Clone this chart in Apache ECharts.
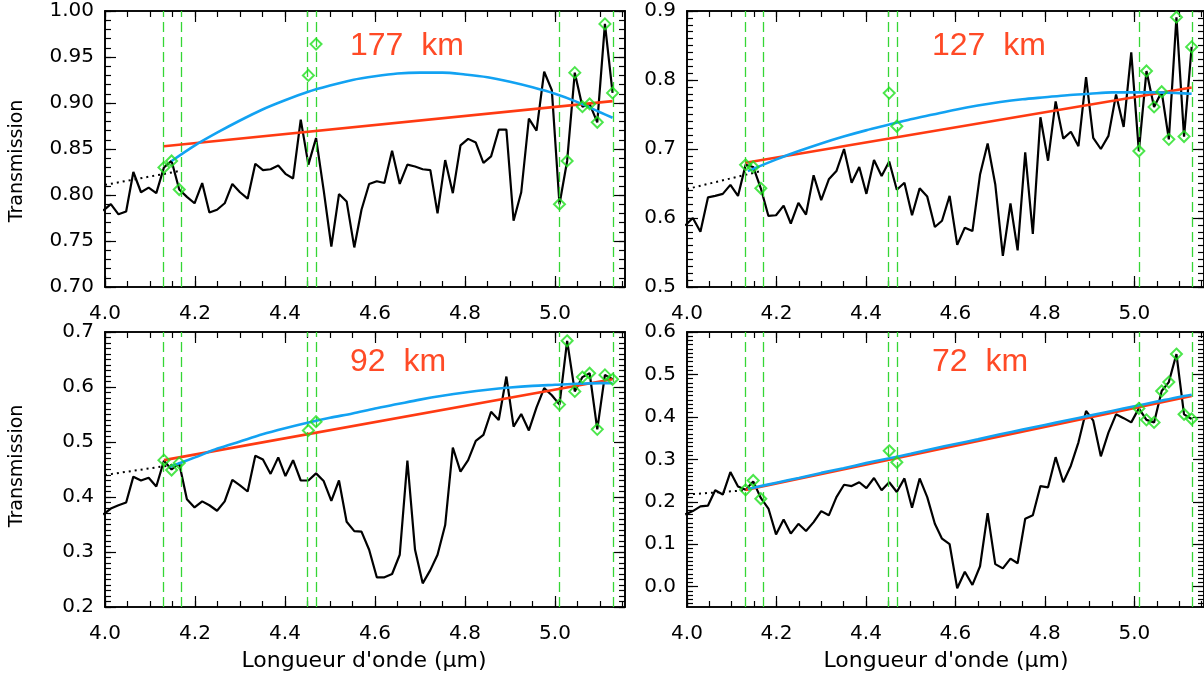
<!DOCTYPE html>
<html><head><meta charset="utf-8">
<script src="https://cdn.jsdelivr.net/npm/echarts@6/dist/echarts.min.js"></script>
<style>html,body{margin:0;padding:0;background:#fff}#c{width:1204px;height:677px}</style>
</head><body><div id="c"></div>
<script>
// ---- data ----
const wavelengths = [3.996,4.013,4.030,4.047,4.063,4.080,4.097,4.114,4.131,4.148,4.165,4.182,4.199,4.216,4.232,4.249,4.266,4.283,4.300,4.317,4.334,4.351,4.368,4.385,4.401,4.418,4.435,4.452,4.469,4.486,4.503,4.520,4.537,4.554,4.570,4.587,4.604,4.621,4.638,4.655,4.672,4.689,4.706,4.723,4.739,4.756,4.773,4.790,4.807,4.824,4.841,4.858,4.875,4.892,4.908,4.925,4.942,4.959,4.976,4.993,5.010,5.027,5.044,5.061,5.077,5.094,5.111,5.128];

const trans177 = [0.783,0.790,0.779,0.782,0.825,0.803,0.808,0.802,0.830,0.837,0.806,0.798,0.791,0.813,0.781,0.784,0.791,0.812,0.803,0.796,0.834,0.827,0.828,0.832,0.823,0.818,0.882,0.833,0.862,0.805,0.744,0.801,0.793,0.743,0.784,0.812,0.815,0.813,0.848,0.812,0.833,0.831,0.828,0.827,0.780,0.838,0.802,0.854,0.861,0.857,0.835,0.842,0.871,0.871,0.772,0.803,0.883,0.870,0.934,0.914,0.790,0.837,0.933,0.896,0.899,0.879,0.986,0.911];
const trans127 = [0.589,0.600,0.580,0.630,0.632,0.635,0.648,0.632,0.677,0.674,0.643,0.603,0.604,0.618,0.592,0.622,0.605,0.662,0.626,0.656,0.668,0.700,0.651,0.674,0.635,0.684,0.661,0.682,0.641,0.651,0.604,0.643,0.631,0.587,0.596,0.632,0.561,0.586,0.581,0.663,0.708,0.649,0.545,0.621,0.553,0.695,0.577,0.746,0.683,0.769,0.715,0.725,0.704,0.804,0.716,0.700,0.719,0.779,0.732,0.840,0.697,0.813,0.761,0.783,0.714,0.891,0.718,0.848];
const trans92 = [0.368,0.379,0.385,0.390,0.437,0.430,0.435,0.419,0.466,0.450,0.461,0.396,0.381,0.392,0.385,0.375,0.392,0.431,0.421,0.410,0.475,0.468,0.442,0.472,0.438,0.467,0.430,0.430,0.443,0.429,0.393,0.430,0.355,0.338,0.337,0.304,0.254,0.254,0.260,0.295,0.466,0.304,0.243,0.267,0.295,0.349,0.490,0.446,0.467,0.502,0.513,0.555,0.540,0.619,0.528,0.551,0.521,0.563,0.598,0.585,0.568,0.684,0.592,0.618,0.625,0.523,0.622,0.614];
const trans72 = [0.170,0.178,0.189,0.191,0.227,0.217,0.270,0.236,0.228,0.248,0.209,0.184,0.123,0.158,0.125,0.148,0.131,0.152,0.178,0.168,0.211,0.240,0.237,0.246,0.232,0.256,0.227,0.246,0.223,0.255,0.186,0.255,0.211,0.148,0.113,0.100,-0.004,0.035,0.004,0.048,0.173,0.053,0.043,0.066,0.055,0.160,0.168,0.237,0.234,0.305,0.246,0.285,0.340,0.414,0.391,0.307,0.363,0.406,0.397,0.387,0.420,0.393,0.387,0.461,0.482,0.548,0.406,0.395];

// continuum points (green diamonds), indices into wavelengths
const contIdx = [8,9,10,27,28,60,61,62,63,64,65,66,67];
const cont177 = [0.830,0.837,0.806,0.930,0.964,0.790,0.837,0.933,0.896,0.899,0.879,0.986,0.911];
const cont127 = [0.677,0.674,0.643,0.781,0.733,0.697,0.813,0.761,0.783,0.714,0.891,0.718,0.848];
const cont92  = [0.467,0.449,0.462,0.521,0.537,0.568,0.684,0.592,0.618,0.625,0.523,0.622,0.614];
const cont72  = [0.228,0.250,0.207,0.320,0.293,0.420,0.393,0.387,0.461,0.482,0.548,0.406,0.395];

// linear fits (red)
const lin177 = [[4.131,0.853],[5.128,0.902]];
const lin127 = [[4.131,0.680],[5.128,0.789]];
const lin92  = [[4.131,0.467],[5.128,0.614]];
const lin72  = [[4.131,0.228],[5.128,0.449]];

// curved fits (blue)
const polyX = [4.20,4.25,4.30,4.35,4.40,4.45,4.50,4.55,4.60,4.65,4.70,4.75,4.80,4.85,4.90,4.95,5.00,5.05,5.10];
const poly177Start = [4.148,0.837], poly177End = [5.128,0.884];
const poly177 = [0.854,0.868,0.881,0.893,0.903,0.912,0.919,0.925,0.929,0.932,0.933,0.933,0.931,0.928,0.923,0.917,0.910,0.901,0.890];
const poly127Start = [4.136,0.668], poly127End = [5.128,0.780];
const poly127 = [0.685,0.697,0.708,0.718,0.727,0.735,0.743,0.750,0.757,0.763,0.768,0.772,0.775,0.778,0.780,0.782,0.782,0.782,0.781];
const poly92Start = [4.144,0.455], poly92End = [5.128,0.607];
const poly92 = [0.472,0.488,0.501,0.514,0.525,0.535,0.544,0.552,0.561,0.569,0.577,0.584,0.590,0.595,0.599,0.602,0.604,0.606,0.607];
const poly72Start = [4.136,0.230], poly72End = [5.128,0.452];
const poly72 = [0.245,0.256,0.268,0.279,0.291,0.302,0.313,0.325,0.336,0.347,0.359,0.370,0.381,0.392,0.403,0.414,0.425,0.436,0.447];

// dotted extrapolations (black)
const ext177 = [[4.0,0.811],[4.165,0.826]];
const ext127 = [[4.0,0.642],[4.165,0.668]];
const ext92  = [[4.0,0.440],[4.165,0.460]];
const ext72  = [[4.0,0.217],[4.131,0.227]];

// green dashed guide wavelengths
const guides = [4.131,4.165,4.452,4.469,5.010,5.128];

// ticks / labels
const xTicks = [4.0,4.2,4.4,4.6,4.8,5.0];
const yTicks177 = [0.70,0.75,0.80,0.85,0.90,0.95,1.00];
const yTicks127 = [0.5,0.6,0.7,0.8,0.9];
const yTicks92  = [0.2,0.3,0.4,0.5,0.6,0.7];
const yTicks72  = [0.0,0.1,0.2,0.3,0.4,0.5,0.6];
const altLabels = ['177  km','127  km','92  km','72  km'];

// ---- build ----
function steps(a, b, s) { const o = []; const n = Math.round((b - a) / s); for (let i = 0; i <= n; i++) o.push(+(a + i * s).toFixed(4)); return o; }
function curve(start, vals, end) { return [start].concat(polyX.map((x, i) => [x, vals[i]])).concat([end]); }

const X_MIN = 4.0, X_MAX = 5.1556;
const grids = [
  {left:105, top:11, width:520, height:276},
  {left:687, top:11, width:520, height:276},
  {left:105, top:332, width:520, height:275},
  {left:687, top:332, width:520, height:275}
];
const panels = [
  {trans:trans177, cont:cont177, lin:lin177, poly:curve(poly177Start, poly177, poly177End), ext:ext177, yMin:0.70, yMax:1.00, yTicks:yTicks177, yMinor:steps(0.70,1.00,0.01), dec:2},
  {trans:trans127, cont:cont127, lin:lin127, poly:curve(poly127Start, poly127, poly127End), ext:ext127, yMin:0.5, yMax:0.9, yTicks:yTicks127, yMinor:steps(0.5,0.9,0.01), dec:1},
  {trans:trans92, cont:cont92, lin:lin92, poly:curve(poly92Start, poly92, poly92End), ext:ext92, yMin:0.2, yMax:0.7, yTicks:yTicks92, yMinor:steps(0.2,0.7,0.01), dec:1},
  {trans:trans72, cont:cont72, lin:lin72, poly:curve(poly72Start, poly72, poly72End), ext:ext72, yMin:-0.048, yMax:0.6, yTicks:yTicks72, yMinor:steps(-0.04,0.6,0.01), dec:1}
];
const xMinor = steps(4.0, 5.15, 0.05);

const FONT = 'DejaVu Sans';
const lineCol = '#000';
const RED = '#ff3a12', BLUE = '#12a2f2', GREEN = '#1fe01f', DASHGREEN = '#35d635', TXT = '#ff4a26';

const xAxes = [], yAxes = [], series = [], graphics = [];

function makeAxis(gi, min, max, pos, tickVals, tickLen, label) {
  return {
    type:'value', gridIndex:gi, min:min, max:max, position:pos,
    splitLine:{show:false},
    axisLine:{show:true, onZero:false, lineStyle:{color:lineCol, width:1.6}},
    axisTick:{show:true, inside:true, length:tickLen, customValues:tickVals, lineStyle:{color:lineCol, width:1.2}},
    axisLabel: label || {show:false}
  };
}

panels.forEach((p, gi) => {
  // x axes: bottom major (labelled), bottom minor, top major, top minor
  xAxes.push(makeAxis(gi, X_MIN, X_MAX, 'bottom', xTicks, 11,
    {show:true, customValues:xTicks, formatter:v => v.toFixed(1), fontFamily:FONT, fontSize:20, color:'#000', margin:17}));
  xAxes.push(makeAxis(gi, X_MIN, X_MAX, 'bottom', xMinor, 6));
  xAxes.push(makeAxis(gi, X_MIN, X_MAX, 'top', xTicks, 11));
  xAxes.push(makeAxis(gi, X_MIN, X_MAX, 'top', xMinor, 6));
  // y axes: left major (labelled), left minor, right major, right minor
  yAxes.push(makeAxis(gi, p.yMin, p.yMax, 'left', p.yTicks, 11,
    {show:true, customValues:p.yTicks, formatter:v => v.toFixed(p.dec), fontFamily:FONT, fontSize:20, color:'#000', margin:11}));
  yAxes.push(makeAxis(gi, p.yMin, p.yMax, 'left', p.yMinor, 6));
  yAxes.push(makeAxis(gi, p.yMin, p.yMax, 'right', p.yTicks, 11));
  yAxes.push(makeAxis(gi, p.yMin, p.yMax, 'right', p.yMinor, 6));

  const xi = gi * 4, yi = gi * 4;
  series.push({type:'line', xAxisIndex:xi, yAxisIndex:yi, data:p.ext, symbol:'none', silent:true, z:3,
    lineStyle:{color:'#000', width:2, type:[2,4]},
    markLine:{silent:true, symbol:'none', label:{show:false}, animation:false,
      lineStyle:{color:DASHGREEN, type:[10,5], width:1.3}, data:guides.map(g => ({xAxis:g}))}});
  series.push({type:'line', xAxisIndex:xi, yAxisIndex:yi, data:wavelengths.map((w,i) => [w, p.trans[i]]),
    symbol:'none', clip:true, silent:true, z:4, lineStyle:{color:'#000', width:2.2}});
  series.push({type:'line', xAxisIndex:xi, yAxisIndex:yi, data:p.lin, symbol:'none', silent:true, z:5,
    lineStyle:{color:RED, width:2.6}});
  series.push({type:'line', xAxisIndex:xi, yAxisIndex:yi, data:p.poly, symbol:'none', smooth:0.3, silent:true, z:6,
    lineStyle:{color:BLUE, width:2.6}});
  series.push({type:'scatter', xAxisIndex:xi, yAxisIndex:yi, data:contIdx.map((k,i) => [wavelengths[k], p.cont[i]]),
    symbol:'diamond', symbolSize:11, silent:true, z:7,
    itemStyle:{color:'rgba(0,0,0,0)', borderColor:GREEN, borderWidth:2}});

  const g = grids[gi];
  graphics.push({type:'text', left:g.left + 245, top:g.top + (gi < 2 ? 19 : 14), silent:true,
    style:{text:altLabels[gi], fill:TXT, font:'32px "Liberation Sans"'}});
});

// axis titles
graphics.push({type:'text', x:17, y:161, rotation:Math.PI/2, silent:true,
  style:{text:'Transmission', fill:'#000', font:'19px "DejaVu Sans"', align:'center', verticalAlign:'middle'}});
graphics.push({type:'text', x:17, y:466, rotation:Math.PI/2, silent:true,
  style:{text:'Transmission', fill:'#000', font:'19px "DejaVu Sans"', align:'center', verticalAlign:'middle'}});
graphics.push({type:'text', x:364, y:661, silent:true,
  style:{text:"Longueur d'onde (\u03bcm)", fill:'#000', font:'22px "DejaVu Sans"', align:'center', verticalAlign:'middle'}});
graphics.push({type:'text', x:946, y:661, silent:true,
  style:{text:"Longueur d'onde (\u03bcm)", fill:'#000', font:'22px "DejaVu Sans"', align:'center', verticalAlign:'middle'}});

const chart = echarts.init(document.getElementById('c'), null, {renderer:'canvas'});
chart.setOption({
  animation:false,
  backgroundColor:'#fff',
  grid:grids.map(g => Object.assign({containLabel:false, show:false}, g)),
  xAxis:xAxes, yAxis:yAxes, series:series
});
chart.setOption({graphic:graphics});
</script></body></html>
